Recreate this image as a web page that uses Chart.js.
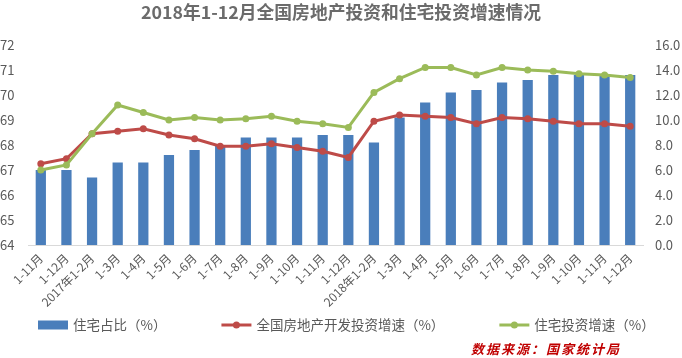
<!DOCTYPE html>
<html>
<head>
<meta charset="utf-8">
<script src="https://cdn.jsdelivr.net/npm/chart.js@4.4.1/dist/chart.umd.min.js"></script>
<style>
  html, body { margin: 0; padding: 0; background: #ffffff; }
  #wrap { position: relative; width: 682px; height: 358px; }
</style>
</head>
<body>
<div id="wrap"><canvas id="c" width="682" height="358"></canvas></div>
<script>
const categories = ['1-11月','1-12月','2017年1-2月','1-3月','1-4月','1-5月','1-6月','1-7月','1-8月','1-9月','1-10月','1-11月','1-12月','2018年1-2月','1-3月','1-4月','1-5月','1-6月','1-7月','1-8月','1-9月','1-10月','1-11月','1-12月'];
const residentialShare = [67.0,67.0,66.7,67.3,67.3,67.6,67.8,68.0,68.3,68.3,68.3,68.4,68.4,68.1,69.1,69.7,70.1,70.2,70.5,70.6,70.8,70.8,70.8,70.8];
const totalInvestGrowth = [6.5,6.9,8.9,9.1,9.3,8.8,8.5,7.9,7.9,8.1,7.8,7.5,7.0,9.9,10.4,10.3,10.2,9.7,10.2,10.1,9.9,9.7,9.7,9.5];
const residentialGrowth = [6.0,6.4,8.9,11.2,10.6,10.0,10.2,10.0,10.1,10.3,9.9,9.7,9.4,12.2,13.3,14.2,14.2,13.6,14.2,14.0,13.9,13.7,13.6,13.4];
const leftTicks = [64,65,66,67,68,69,70,71,72];
const rightTicks = [0,2,4,6,8,10,12,14,16];
const seriesNames = ['住宅占比（%）','全国房地产开发投资增速（%）','住宅投资增速（%）'];
const titleText = '2018年1-12月全国房地产投资和住宅投资增速情况';
const sourceText = '数据来源：国家统计局';

const FONT = '"Microsoft YaHei","Noto Sans CJK SC","Noto Sans",sans-serif';
const C_BAR = '#4A7EBB', C_RED = '#BE4B48', C_GREEN = '#9BBB59', C_TEXT = '#595959';

const legendPlugin = {
  id: 'customLegend',
  afterDraw(chart) {
    const ctx = chart.ctx;
    ctx.save();
    ctx.font = '13.5px ' + FONT;
    ctx.textBaseline = 'middle';
    const y = 325;
    let x = 38;
    const ds = chart.data.datasets;
    ds.forEach((d, i) => {
      if (d.type === 'bar') {
        ctx.fillStyle = d.backgroundColor;
        ctx.fillRect(x, y - 4.5, 30, 9);
      } else {
        ctx.strokeStyle = d.borderColor;
        ctx.lineWidth = 3;
        ctx.beginPath(); ctx.moveTo(x, y); ctx.lineTo(x + 30, y); ctx.stroke();
        ctx.fillStyle = d.borderColor;
        ctx.beginPath(); ctx.arc(x + 15, y, 3.5, 0, Math.PI * 2); ctx.fill();
      }
      ctx.fillStyle = C_TEXT;
      ctx.textAlign = 'left';
      ctx.fillText(d.label, x + 35, y);
      x = x + 35 + ctx.measureText(d.label).width + 55;
    });
    // source note
    ctx.font = 'italic bold 13px ' + FONT;
    ctx.fillStyle = '#C00000';
    try { ctx.letterSpacing = '2px'; } catch (e) {}
    ctx.fillText(sourceText, 471, 349);
    ctx.restore();
  }
};

new Chart(document.getElementById('c'), {
  data: {
    labels: categories,
    datasets: [
      { type: 'bar', label: seriesNames[0], data: residentialShare, yAxisID: 'y',
        backgroundColor: C_BAR, borderWidth: 0, barPercentage: 0.4, categoryPercentage: 1.0, order: 3 },
      { type: 'line', label: seriesNames[1], data: totalInvestGrowth, yAxisID: 'y1',
        borderColor: C_RED, backgroundColor: C_RED, borderWidth: 3, pointRadius: 3.5,
        pointBackgroundColor: C_RED, pointBorderWidth: 0, tension: 0, order: 2 },
      { type: 'line', label: seriesNames[2], data: residentialGrowth, yAxisID: 'y1',
        borderColor: C_GREEN, backgroundColor: C_GREEN, borderWidth: 3, pointRadius: 3.5,
        pointBackgroundColor: C_GREEN, pointBorderWidth: 0, tension: 0, order: 1 }
    ]
  },
  options: {
    responsive: false,
    animation: false,
    layout: { padding: { left: 0, right: 0, top: 0, bottom: 43 } },
    plugins: {
      legend: { display: false },
      tooltip: { enabled: false },
      title: { display: true, text: titleText, color: '#6B6B6B',
        font: { family: FONT, size: 17.8, weight: 'bold' }, padding: { top: 2, bottom: 21.6 } }
    },
    scales: {
      x: {
        grid: { display: false, drawTicks: false },
        border: { display: true, color: '#D9D9D9', width: 1 },
        ticks: { color: C_TEXT, font: { family: FONT, size: 12 }, minRotation: 45, maxRotation: 45,
          autoSkip: false, padding: 6 },
        afterFit(s) { s.height = 70; }
      },
      y: {
        position: 'left', min: 64, max: 72,
        grid: { display: false, drawTicks: false },
        border: { display: false },
        afterBuildTicks(s) { s.ticks = leftTicks.map(v => ({ value: v })); },
        ticks: { color: C_TEXT, font: { family: FONT, size: 13 }, crossAlign: 'far', padding: 0 },
        afterFit(s) { s.width = 28; }
      },
      y1: {
        position: 'right', min: 0, max: 16,
        grid: { display: false, drawTicks: false },
        border: { display: false },
        afterBuildTicks(s) { s.ticks = rightTicks.map(v => ({ value: v })); },
        ticks: { color: C_TEXT, font: { family: FONT, size: 13 }, padding: 12,
          callback: v => Number(v).toFixed(1) },
        afterFit(s) { s.width = 39; }
      }
    }
  },
  plugins: [legendPlugin]
});
</script>
</body>
</html>
